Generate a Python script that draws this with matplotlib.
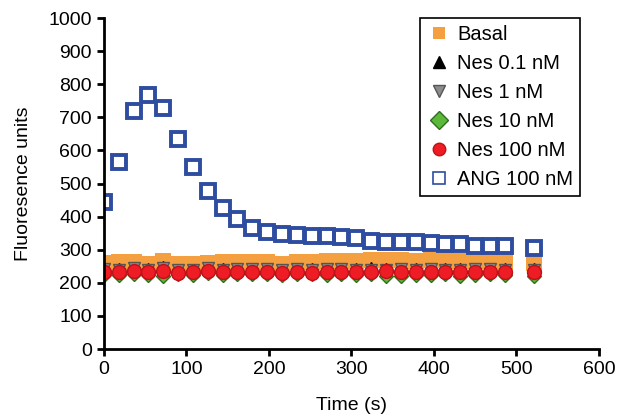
import numpy as np
import matplotlib.pyplot as plt

plt.rcParams['font.family'] = ['Liberation Sans', 'DejaVu Sans']

# time points (s)
time = [0, 18, 36, 54, 72, 90, 108, 126, 144, 162, 180, 198, 216, 234, 252,
        270, 288, 306, 324, 342, 360, 378, 396, 414, 432, 450, 468, 486, 522]

basal = [260, 264, 262, 258, 265, 257, 257, 260, 264, 264, 264, 264, 258, 264, 262,
         266, 266, 266, 268, 268, 268, 266, 268, 268, 266, 266, 266, 264, 260]
nes_01 = [252, 252, 254, 250, 256, 249, 249, 254, 252, 252, 252, 252, 249, 252, 250,
          252, 252, 252, 254, 252, 252, 252, 252, 252, 250, 252, 252, 252, 252]
nes_1 = [242, 240, 244, 240, 246, 240, 240, 244, 240, 242, 242, 242, 238, 242, 240,
         242, 242, 240, 240, 240, 242, 240, 242, 240, 240, 242, 242, 240, 240]
nes_10 = [225, 224, 228, 224, 222, 226, 225, 230, 224, 226, 228, 226, 224, 226, 228,
          224, 226, 224, 226, 222, 220, 224, 224, 226, 222, 224, 226, 224, 222]
nes_100 = [233, 233, 236, 232, 235, 231, 232, 237, 232, 233, 234, 234, 229, 234, 231,
           234, 233, 233, 232, 235, 233, 233, 233, 233, 233, 233, 232, 233, 232]
ang_100 = [444, 565, 718, 767, 728, 634, 550, 478, 426, 393, 366, 353, 347, 344, 341,
           340, 338, 335, 326, 323, 323, 322, 320, 317, 316, 311, 310, 310, 305]

fig, ax = plt.subplots(figsize=(6.18, 4.19), dpi=100)
fig.subplots_adjust(left=0.168, right=0.969, bottom=0.167, top=0.957)

ax.plot(time, basal, 's', color='#f5a040', markersize=11, markeredgewidth=0, label='Basal')
ax.plot(time, nes_01, '^', color='black', markersize=4, label='Nes 0.1 nM')
ax.plot(time, nes_1, 'v', color='#8c8c8c', markeredgecolor='#555555', markersize=8, label='Nes 1 nM')
ax.plot(time, nes_10, 'D', color='#5cb83a', markeredgecolor='#2f6e1c', markersize=7, label='Nes 10 nM')
ax.plot(time, nes_100, 'o', color='#ee1c24', markeredgecolor='#c01018', markersize=10, label='Nes 100 nM')
ax.plot(time, ang_100, 's', markerfacecolor='none', markeredgecolor='#2e4da0',
        markersize=10.5, markeredgewidth=2.8, label='ANG 100 nM')

ax.set_xlim(0, 600)
ax.set_ylim(0, 1000)
ax.set_xticks(np.arange(0, 601, 100))
ax.set_yticks(np.arange(0, 1001, 100))
ax.set_xlabel('Time (s)', fontsize=14, labelpad=14)
ax.set_ylabel('Fluoresence units', fontsize=14, labelpad=12)
ax.tick_params(labelsize=14, width=2, length=5, direction='out')
for s in ['top', 'right']:
    ax.spines[s].set_visible(False)
for s in ['left', 'bottom']:
    ax.spines[s].set_linewidth(2)

leg = ax.legend(loc='upper right', fontsize=14.5, fancybox=False, framealpha=1,
                edgecolor='black', handletextpad=0.3, borderpad=0.35, labelspacing=0.5,
                handlelength=1.2, borderaxespad=0, bbox_to_anchor=(0.962, 1.0))
leg.get_frame().set_linewidth(1.2)
for h in leg.legend_handles:
    h.set_markersize(9)
leg.legend_handles[5].set_markeredgewidth(1.2)

fig.savefig('out.png')
